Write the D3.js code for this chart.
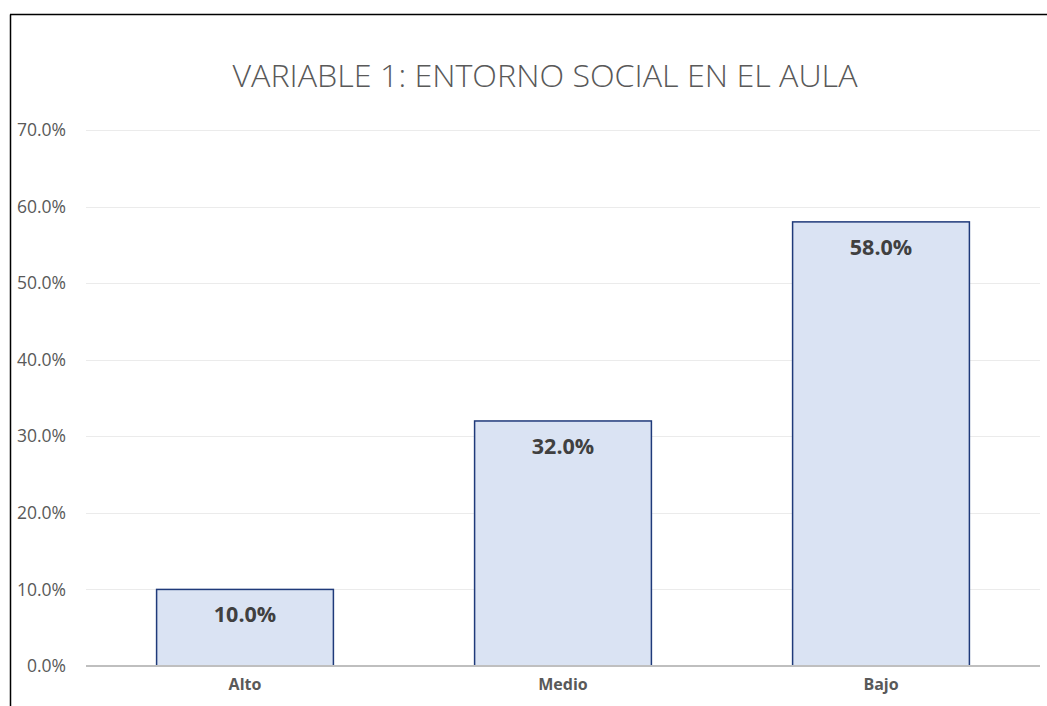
<!DOCTYPE html>
<html>
<head>
<meta charset="utf-8">
<script src="https://cdn.jsdelivr.net/npm/d3@7"></script>
<style>
  body { margin: 0; background: #fff; }
  text { font-family: "Open Sans", "Liberation Sans", sans-serif; }
</style>
</head>
<body>
<div id="chart"></div>
<script>
var categories = ["Alto", "Medio", "Bajo"];
var values = [0.10, 0.32, 0.58];
var tickValues = [0, 0.1, 0.2, 0.3, 0.4, 0.5, 0.6, 0.7];
var title = "VARIABLE 1: ENTORNO SOCIAL EN EL AULA";

var svgWidth = 1047;
var svgHeight = 706;

var margin = { top: 130, right: 7, bottom: 40, left: 86 };
var width = svgWidth - margin.left - margin.right;
var height = 666 - margin.top;

var svg = d3.select("#chart")
  .append("svg")
  .attr("width", svgWidth)
  .attr("height", svgHeight);

// frame lines (left and top)
svg.append("line")
  .attr("x1", 10.5).attr("x2", 10.5)
  .attr("y1", 14.5).attr("y2", svgHeight)
  .attr("stroke", "#000").attr("stroke-width", 1.5);
svg.append("line")
  .attr("x1", 10).attr("x2", svgWidth)
  .attr("y1", 14.5).attr("y2", 14.5)
  .attr("stroke", "#000").attr("stroke-width", 1.5);

var chartGroup = svg.append("g")
  .attr("transform", `translate(${margin.left}, ${margin.top})`);

var xScale = d3.scaleBand()
  .domain(categories)
  .range([0, width])
  .paddingInner(0.444)
  .paddingOuter(0.222);

var yScale = d3.scaleLinear()
  .domain([0, 0.7])
  .range([height, 0]);

// gridlines
chartGroup.selectAll(".grid")
  .data(tickValues.filter(d => d > 0))
  .enter()
  .append("line")
  .attr("x1", 0)
  .attr("x2", width)
  .attr("y1", d => Math.round(yScale(d)) + 0.5)
  .attr("y2", d => Math.round(yScale(d)) + 0.5)
  .attr("stroke", "#ebebeb")
  .attr("stroke-width", 1);

// y axis labels
var leftAxis = d3.axisLeft(yScale)
  .tickValues(tickValues)
  .tickFormat(d3.format(".1%"))
  .tickSize(0)
  .tickPadding(20);

var yAxis = chartGroup.append("g").call(leftAxis);
yAxis.select(".domain").remove();
yAxis.selectAll("text")
  .attr("fill", "#595959")
  .style("font-size", "17.5px");

// bars
chartGroup.selectAll(".bar")
  .data(values)
  .enter()
  .append("rect")
  .attr("x", (d, i) => xScale(categories[i]))
  .attr("y", d => yScale(d))
  .attr("width", xScale.bandwidth())
  .attr("height", d => height - yScale(d))
  .attr("fill", "#dae3f3")
  .attr("stroke", "#1f3a7a")
  .attr("stroke-width", 1.5);

// baseline
chartGroup.append("line")
  .attr("x1", 0).attr("x2", width)
  .attr("y1", height).attr("y2", height)
  .attr("stroke", "#bfbfbf")
  .attr("stroke-width", 2);

// value labels
chartGroup.selectAll(".val")
  .data(values)
  .enter()
  .append("text")
  .attr("x", (d, i) => xScale(categories[i]) + xScale.bandwidth() / 2)
  .attr("y", d => yScale(d) + 33)
  .attr("text-anchor", "middle")
  .attr("fill", "#404040")
  .style("font-size", "21.5px")
  .style("font-weight", "bold")
  .text(d => d3.format(".1%")(d));

// x axis labels
var bottomAxis = d3.axisBottom(xScale).tickSize(0).tickPadding(13);
var xAxis = chartGroup.append("g")
  .attr("transform", `translate(0, ${height})`)
  .call(bottomAxis);
xAxis.select(".domain").remove();
xAxis.selectAll("text")
  .attr("fill", "#595959")
  .style("font-size", "16px")
  .style("font-weight", "bold");

// title
svg.append("text")
  .attr("x", 545)
  .attr("y", 87)
  .attr("text-anchor", "middle")
  .attr("fill", "#595959")
  .attr("textLength", 625)
  .attr("lengthAdjust", "spacingAndGlyphs")
  .style("font-size", "31px")
  .style("font-weight", "300")
  .text(title);
</script>
</body>
</html>
